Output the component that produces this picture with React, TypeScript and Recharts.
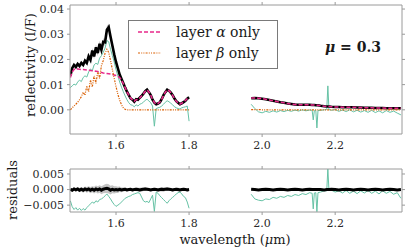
import React from 'react';
import { ComposedChart, Line, Area, XAxis, YAxis } from 'recharts';

// ---------- data ----------
const w1 = [1.475, 1.48, 1.485, 1.49, 1.495, 1.5, 1.505, 1.51, 1.515, 1.52, 1.525, 1.53, 1.535, 1.54, 1.545, 1.55, 1.555, 1.56, 1.565, 1.57, 1.575, 1.58, 1.585, 1.59, 1.595, 1.6, 1.605, 1.61, 1.615, 1.62, 1.625, 1.63, 1.635, 1.64, 1.645, 1.65, 1.655, 1.66, 1.665, 1.67, 1.675, 1.68, 1.685, 1.69, 1.695, 1.7, 1.705, 1.71, 1.715, 1.72, 1.725, 1.73, 1.735, 1.74, 1.745, 1.75, 1.755, 1.76, 1.765, 1.77, 1.775, 1.78, 1.785, 1.79, 1.795, 1.8];
const obs1 = [0.0135, 0.0165, 0.0178, 0.017, 0.0182, 0.0174, 0.0186, 0.0178, 0.0195, 0.0186, 0.0212, 0.0198, 0.0235, 0.0212, 0.0248, 0.0225, 0.0262, 0.0238, 0.027, 0.0268, 0.0318, 0.0328, 0.029, 0.0255, 0.022, 0.019, 0.0165, 0.014, 0.0122, 0.0105, 0.0088, 0.0072, 0.0058, 0.0045, 0.004, 0.0032, 0.0042, 0.004, 0.0048, 0.0055, 0.0064, 0.0074, 0.008, 0.007, 0.0058, 0.004, 0.0028, 0.0022, 0.0025, 0.003, 0.0042, 0.0058, 0.007, 0.008, 0.0076, 0.0068, 0.0058, 0.0045, 0.0034, 0.0028, 0.0022, 0.0026, 0.003, 0.0036, 0.0044, 0.005];
const alpha1 = [0.0128, 0.015, 0.016, 0.0163, 0.0162, 0.0161, 0.016, 0.016, 0.0159, 0.0158, 0.0157, 0.0156, 0.0155, 0.0154, 0.0153, 0.0152, 0.015, 0.0148, 0.0146, 0.0145, 0.0144, 0.0143, 0.0142, 0.014, 0.0138, 0.0136, 0.0133, 0.0128, 0.0118, 0.0104, 0.0088, 0.0072, 0.0058, 0.0046, 0.004, 0.0034, 0.004, 0.0041, 0.0047, 0.0055, 0.0064, 0.0073, 0.0079, 0.0071, 0.0058, 0.0041, 0.0029, 0.0023, 0.0025, 0.0031, 0.0042, 0.0057, 0.007, 0.0079, 0.0076, 0.0068, 0.0057, 0.0045, 0.0034, 0.0028, 0.0023, 0.0026, 0.0031, 0.0037, 0.0044, 0.0049];
const beta1 = [0.0, 0.0008, 0.0015, 0.0022, 0.003, 0.004, 0.0052, 0.007, 0.0058, 0.0095, 0.0072, 0.0118, 0.009, 0.0135, 0.0105, 0.015, 0.0125, 0.0175, 0.0195, 0.0225, 0.024, 0.0228, 0.0195, 0.016, 0.0125, 0.0092, 0.0062, 0.0038, 0.002, 0.0008, 0.0002, 0.0, 0.0, 0.0, 0.0, 0.0, 0.0, 0.0, 0.0, 0.0, 0.0, 0.0, 0.0, 0.0, 0.0, 0.0, 0.0, 0.0, 0.0, 0.0, 0.0, 0.0, 0.0, 0.0, 0.0, 0.0, 0.0, 0.0, 0.0, 0.0, 0.0, 0.0, 0.0, 0.0, 0.0, 0.0];
const model1 = [0.0088, 0.0095, 0.0102, 0.0098, 0.011, 0.0118, 0.0112, 0.0128, 0.0135, 0.013, 0.015, 0.0162, 0.0155, 0.0178, 0.0185, 0.018, 0.0205, 0.0215, 0.0228, 0.0245, 0.0275, 0.027, 0.024, 0.0215, 0.019, 0.016, 0.0135, 0.011, 0.009, 0.0072, 0.0055, 0.004, 0.0028, 0.002, 0.0018, 0.0012, 0.002, 0.0015, 0.0022, 0.0025, 0.003, 0.0038, 0.0042, 0.0035, 0.0028, 0.0015, -0.0065, 0.0005, 0.0008, 0.001, 0.0015, 0.0022, 0.003, 0.0036, 0.0032, 0.0026, 0.002, 0.0012, 0.0008, 0.0005, 0.0003, 0.0008, 0.001, 0.0012, 0.0015, -0.0045];
const err1 = [0.0004, 0.0005, 0.0005, 0.0006, 0.0006, 0.0007, 0.0007, 0.0008, 0.0008, 0.0009, 0.0009, 0.001, 0.001, 0.0011, 0.0011, 0.0012, 0.0012, 0.0013, 0.0013, 0.0014, 0.0015, 0.0015, 0.0014, 0.0013, 0.0012, 0.0011, 0.001, 0.0009, 0.0008, 0.0007, 0.0006, 0.0006, 0.0005, 0.0005, 0.0005, 0.0005, 0.0006, 0.0006, 0.0007, 0.0007, 0.0006, 0.0006, 0.0005, 0.0005, 0.0005, 0.0005, 0.0005, 0.0005, 0.0006, 0.0006, 0.0007, 0.0007, 0.0006, 0.0006, 0.0005, 0.0005, 0.0005, 0.0005, 0.0005, 0.0006, 0.0006, 0.0005, 0.0005, 0.0005, 0.0005, 0.0005];
const resObs1 = [0.0001, -0.0002, 0.0002, -0.0001, 0.0002, -0.0002, 0.0001, -0.0002, 0.0002, -0.0001, 0.0002, -0.0002, 0.0001, -0.0002, 0.0002, -0.0001, 0.0002, -0.0002, 0.0001, 0.0003, 0.0004, 0.0002, -0.0002, 0.0001, -0.0001, 0.0, -0.0001, 0.0001, -0.0001, 0.0, 0.0001, -0.0001, 0.0, 0.0001, -0.0001, 0.0, 0.0001, 0.0, -0.0001, 0.0, 0.0001, 0.0002, 0.0001, 0.0, -0.0001, 0.0, 0.0001, 0.0, -0.0001, 0.0, 0.0001, 0.0, 0.0001, 0.0002, 0.0001, 0.0, -0.0001, 0.0, 0.0001, 0.0, -0.0001, 0.0, 0.0001, 0.0, -0.0001, 0.0];
const resModel1 = [-0.0036, -0.0055, -0.0064, -0.0058, -0.0066, -0.006, -0.0067, -0.0061, -0.0066, -0.0058, -0.0052, -0.0046, -0.004, -0.0044, -0.0036, -0.004, -0.0032, -0.003, -0.0026, -0.002, -0.0014, -0.0022, -0.003, -0.004, -0.0048, -0.0054, -0.005, -0.0046, -0.004, -0.0034, -0.0028, -0.0025, -0.0022, -0.002, -0.0016, -0.0014, -0.0012, -0.001, -0.0012, -0.0024, -0.0036, -0.004, -0.0038, -0.0042, -0.003, -0.0018, -0.007, -0.0008, -0.0012, -0.002, -0.0026, -0.0032, -0.0038, -0.0044, -0.0036, -0.003, -0.0025, -0.002, -0.0014, -0.001, -0.0008, -0.0014, -0.0022, -0.0026, -0.004, -0.006];

const w2 = [1.97, 1.98, 1.99, 2.0, 2.01, 2.02, 2.03, 2.04, 2.05, 2.06, 2.07, 2.08, 2.09, 2.1, 2.11, 2.12, 2.13, 2.137, 2.14, 2.143, 2.147, 2.15, 2.153, 2.16, 2.17, 2.177, 2.18, 2.183, 2.19, 2.2, 2.21, 2.22, 2.23, 2.24, 2.25, 2.26, 2.27, 2.28, 2.29, 2.3, 2.31, 2.32, 2.33, 2.34, 2.35, 2.36, 2.37, 2.38];
const obs2 = [0.0046, 0.0047, 0.0046, 0.0044, 0.0042, 0.0039, 0.0036, 0.0033, 0.003, 0.0028, 0.0025, 0.0023, 0.0021, 0.002, 0.002, 0.002, 0.002, 0.0019, 0.0019, 0.0019, 0.0018, 0.0018, 0.0018, 0.0016, 0.0014, 0.0013, 0.0013, 0.0013, 0.0012, 0.0011, 0.0011, 0.001, 0.001, 0.001, 0.001, 0.0009, 0.0009, 0.0008, 0.0008, 0.0008, 0.0007, 0.0007, 0.0007, 0.0006, 0.0006, 0.0006, 0.0006, 0.0006];
const alpha2 = [0.0047, 0.0047, 0.0046, 0.0045, 0.0042, 0.0039, 0.0036, 0.0033, 0.003, 0.0028, 0.0025, 0.0023, 0.0021, 0.002, 0.002, 0.002, 0.002, 0.0019, 0.0019, 0.0019, 0.0018, 0.0018, 0.0018, 0.0016, 0.0014, 0.0013, 0.0013, 0.0013, 0.0012, 0.0011, 0.0011, 0.001, 0.001, 0.001, 0.001, 0.0009, 0.0009, 0.0008, 0.0008, 0.0008, 0.0007, 0.0007, 0.0007, 0.0006, 0.0006, 0.0006, 0.0006, 0.0006];
const beta2 = [0.0001, 0.0001, 0.0001, 0.0, 0.0, 0.0, 0.0, 0.0, 0.0, 0.0, 0.0, 0.0, 0.0, 0.0, 0.0, 0.0, 0.0, 0.0, 0.0, 0.0, 0.0, 0.0, 0.0, 0.0, 0.0, 0.0, 0.0, 0.0, 0.0, 0.0, 0.0, 0.0, 0.0, 0.0, 0.0, 0.0, 0.0, 0.0, 0.0, 0.0, 0.0, 0.0, 0.0, 0.0, 0.0, 0.0, 0.0, 0.0];
const model2 = [0.0022, 0.0005, -0.0008, -0.0012, -0.0006, -0.001, -0.0004, -0.0009, -0.0003, -0.0007, -0.0002, -0.0006, -0.0001, -0.0005, 0.0, -0.0004, -0.0001, -0.0002, -0.0040, -0.0003, -0.0002, -0.0072, -0.0003, -0.0002, 0.0, 0.0001, 0.0095, 0.0001, -0.0002, 0.0001, -0.0006, -0.0001, -0.0007, 0.0, -0.0008, -0.0002, -0.0009, -0.0003, -0.001, -0.0002, -0.0011, -0.0004, -0.0012, -0.0003, -0.001, -0.0005, -0.0013, -0.002];
const err2 = [0.0003, 0.0003, 0.0003, 0.0003, 0.0003, 0.0003, 0.0003, 0.0003, 0.0003, 0.0003, 0.0003, 0.0003, 0.0003, 0.0003, 0.0003, 0.0003, 0.0003, 0.0003, 0.0003, 0.0003, 0.0003, 0.0003, 0.0003, 0.0003, 0.0003, 0.0003, 0.0003, 0.0003, 0.0003, 0.0003, 0.0003, 0.0003, 0.0003, 0.0003, 0.0003, 0.0003, 0.0003, 0.0003, 0.0003, 0.0003, 0.0003, 0.0003, 0.0003, 0.0003, 0.0003, 0.0003, 0.0003, 0.0003];
const resObs2 = [0.0001, 0.0, -0.0001, 0.0, 0.0001, 0.0, -0.0001, 0.0, 0.0001, 0.0, -0.0001, 0.0, 0.0001, 0.0, -0.0001, 0.0, 0.0001, 0.0, 0.0, 0.0, 0.0, 0.0, 0.0, 0.0, -0.0001, 0.0, 0.0, 0.0, 0.0001, 0.0, -0.0001, 0.0, 0.0001, 0.0, -0.0001, 0.0, 0.0001, 0.0, -0.0001, 0.0, 0.0001, 0.0, -0.0001, 0.0, 0.0001, 0.0, -0.0001, 0.0];
const resModel2 = [-0.0015, -0.003, -0.0034, -0.0036, -0.003, -0.0032, -0.0025, -0.0028, -0.0022, -0.0025, -0.0019, -0.0022, -0.0016, -0.0019, -0.0013, -0.0016, -0.001, -0.0012, -0.0062, -0.0011, -0.001, -0.0071, -0.0010, -0.0008, -0.0004, -0.0004, 0.0068, -0.0003, -0.0002, -0.0008, -0.0004, -0.0011, -0.0003, -0.0012, -0.0005, -0.0013, -0.0004, -0.0011, -0.0003, -0.0012, -0.0005, -0.0014, -0.0004, -0.0012, -0.0006, -0.0015, -0.001, -0.0028];

const GAP_W = 1.885;
const X_DOMAIN: [number, number] = [1.474, 2.383];
const X_TICKS = [1.6, 1.8, 2.0, 2.2];
const TOP_DOMAIN: [number, number] = [-0.0096, 0.0416];
const TOP_TICKS = [0, 0.01, 0.02, 0.03, 0.04];
const RES_DOMAIN: [number, number] = [-0.0072, 0.0066];
const RES_TICKS = [-0.005, 0, 0.005];

// ---------- tables ----------
const topRows = [
  ...w1.map((w, i) => ({ w, obs: obs1[i], band: [obs1[i] - err1[i], obs1[i] + err1[i]], alpha: alpha1[i], beta: beta1[i], model: model1[i] })),
  { w: GAP_W, obs: null, band: null, alpha: null, beta: null, model: null },
  ...w2.map((w, i) => ({ w, obs: obs2[i], band: [obs2[i] - err2[i], obs2[i] + err2[i]], alpha: alpha2[i], beta: beta2[i], model: model2[i] })),
];
const resRows = [
  ...w1.map((w, i) => ({ w, obs: resObs1[i], band: [resObs1[i] - err1[i], resObs1[i] + err1[i]], model: resModel1[i] })),
  { w: GAP_W, obs: null, band: null, model: null },
  ...w2.map((w, i) => ({ w, obs: resObs2[i], band: [resObs2[i] - err2[i], resObs2[i] + err2[i]], model: resModel2[i] })),
];

// ---------- styles ----------
const FONT = "'DejaVu Serif', serif";
const AXIS = '#9a9a9a';
const TICK = { fill: '#2a2a2a', fontSize: 11, fontFamily: FONT };
const PINK = '#e7298a';
const ORANGE = '#d95f02';
const TEAL = '#66c2a5';
const BAND = '#b5b5b5';
const PINK_DASH = '4 2';
const ORANGE_DASH = '2 1.2 1 1.2 1 1.2';
const blank = () => '';
const fmt1 = (v: number) => v.toFixed(1);
const fmt2 = (v: number) => v.toFixed(2);
const fmtRes = (v: number) => (v < 0 ? '\u2212' + Math.abs(v).toFixed(3) : Math.abs(v).toFixed(3));

export default function App() {
  const xCommon = {
    type: 'number' as const,
    dataKey: 'w',
    domain: X_DOMAIN,
    allowDataOverflow: true,
    ticks: X_TICKS,
    interval: 0 as const,
    tickSize: 3,
    stroke: AXIS,
    tick: TICK,
  };
  return (
    <div style={{ position: 'absolute', left: 0, top: 0, width: 415, height: 250, background: '#fff' }}>
      <div style={{ position: 'absolute', left: 0, top: 0 }}>
        <ComposedChart width={415} height={158} data={topRows} margin={{ top: 0, right: 0, bottom: 8, left: 8 }}>
          <XAxis xAxisId="b" {...xCommon} orientation="bottom" height={16} tickMargin={4} tickFormatter={fmt1} />
          <XAxis xAxisId="t" {...xCommon} orientation="top" height={5} tickFormatter={blank} />
          <YAxis yAxisId="l" type="number" domain={TOP_DOMAIN} allowDataOverflow ticks={TOP_TICKS} interval={0} width={62} tickSize={3} tickMargin={3} stroke={AXIS} tick={TICK} tickFormatter={fmt2} />
          <YAxis yAxisId="r" orientation="right" type="number" domain={TOP_DOMAIN} allowDataOverflow ticks={TOP_TICKS} interval={0} width={13} tickSize={3} stroke={AXIS} tick={TICK} tickFormatter={blank} />
          <Area xAxisId="b" yAxisId="l" type="linear" dataKey="band" stroke="none" fill={BAND} fillOpacity={0.8} isAnimationActive={false} />
          <Line xAxisId="b" yAxisId="l" type="linear" dataKey="model" stroke={TEAL} strokeWidth={1} dot={false} isAnimationActive={false} />
          <Line xAxisId="b" yAxisId="l" type="linear" dataKey="obs" stroke="#000" strokeWidth={2.6} dot={false} isAnimationActive={false} />
          <Line xAxisId="b" yAxisId="l" type="linear" dataKey="alpha" stroke={PINK} strokeWidth={1.6} strokeDasharray={PINK_DASH} dot={false} isAnimationActive={false} />
          <Line xAxisId="b" yAxisId="l" type="linear" dataKey="beta" stroke={ORANGE} strokeWidth={1.2} strokeDasharray={ORANGE_DASH} dot={false} isAnimationActive={false} />
        </ComposedChart>
      </div>
      <div style={{ position: 'absolute', left: 0, top: 160 }}>
        <ComposedChart width={415} height={76} data={resRows} margin={{ top: 4, right: 0, bottom: 8, left: 8 }}>
          <XAxis xAxisId="b" {...xCommon} orientation="bottom" height={16} tickMargin={4} tickFormatter={fmt1} />
          <XAxis xAxisId="t" {...xCommon} orientation="top" height={5} tickFormatter={blank} />
          <YAxis yAxisId="l" type="number" domain={RES_DOMAIN} allowDataOverflow ticks={RES_TICKS} interval={0} width={62} tickSize={3} tickMargin={3} stroke={AXIS} tick={TICK} tickFormatter={fmtRes} />
          <YAxis yAxisId="r" orientation="right" type="number" domain={RES_DOMAIN} allowDataOverflow ticks={RES_TICKS} interval={0} width={13} tickSize={3} stroke={AXIS} tick={TICK} tickFormatter={blank} />
          <Area xAxisId="b" yAxisId="l" type="linear" dataKey="band" stroke="none" fill={BAND} fillOpacity={0.8} isAnimationActive={false} />
          <Line xAxisId="b" yAxisId="l" type="linear" dataKey="model" stroke={TEAL} strokeWidth={1} dot={false} isAnimationActive={false} />
          <Line xAxisId="b" yAxisId="l" type="linear" dataKey="obs" stroke="#000" strokeWidth={3} dot={false} isAnimationActive={false} />
        </ComposedChart>
      </div>
      <svg width={415} height={250} style={{ position: 'absolute', left: 0, top: 0, pointerEvents: 'none' }} fontFamily={FONT}>
        <text transform="translate(30,65) rotate(-90)" textAnchor="middle" dominantBaseline="central" fontSize={13} fill="#1a1a1a">reflectivity (I/F)</text>
        <text transform="translate(12,190) rotate(-90)" textAnchor="middle" dominantBaseline="central" fontSize={13} fill="#1a1a1a">residuals</text>
        <text x={235} y={239} textAnchor="middle" dominantBaseline="central" fontSize={13} fill="#1a1a1a">
          wavelength (<tspan fontStyle="italic">μ</tspan>m)
        </text>
        <text x={353} y={47} textAnchor="middle" dominantBaseline="central" fontSize={14} fontWeight="bold" fill="#1a1a1a">
          <tspan fontStyle="italic">μ</tspan> = 0.3
        </text>
        <rect x={128.5} y={20.5} width={149} height={48} fill="#fff" stroke="#7a7a7a" strokeWidth={1} />
        <line x1={138} y1={32} x2={161} y2={32} stroke={PINK} strokeWidth={1.6} strokeDasharray={PINK_DASH} />
        <text x={176} y={32} dominantBaseline="central" fontSize={14} fill="#1a1a1a">
          layer <tspan fontStyle="italic">α</tspan> only
        </text>
        <line x1={138} y1={53} x2={161} y2={53} stroke={ORANGE} strokeWidth={1.2} strokeDasharray={ORANGE_DASH} />
        <text x={176} y={53} dominantBaseline="central" fontSize={14} fill="#1a1a1a">
          layer <tspan fontStyle="italic">β</tspan> only
        </text>
      </svg>
    </div>
  );
}
